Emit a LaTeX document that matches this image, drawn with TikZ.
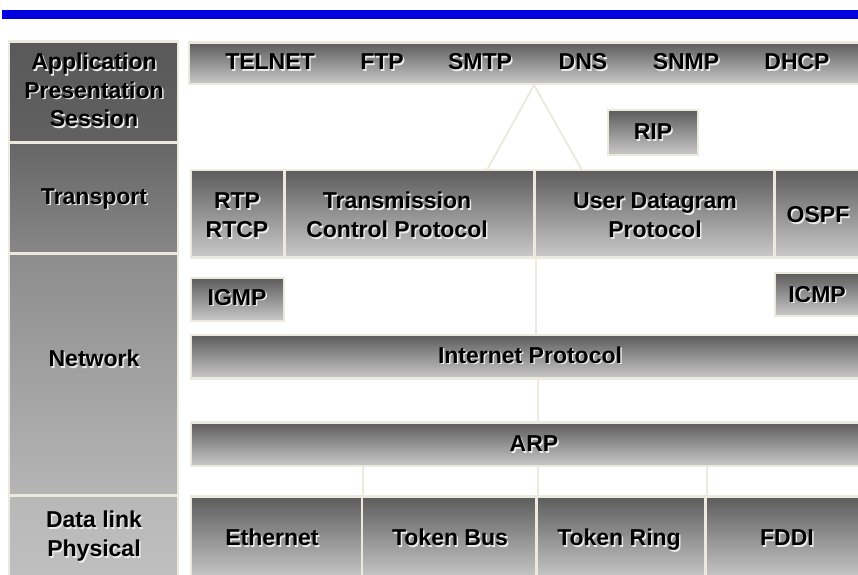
\documentclass[tikz,border=0pt]{standalone}
\usepackage{fontspec}
\setmainfont{Liberation Sans}
\usetikzlibrary{fit}
\definecolor{rim}{HTML}{ECEADF}
\definecolor{bluebar}{HTML}{0000E0}
% black lettering with a pale drop shadow
\newcommand\shd[1]{\leavevmode\rlap{\hspace{1.5pt}\raisebox{-1.5pt}{\color{white!85!gray}#1}}#1}
\tikzset{
  protobox/.style={draw=rim, line width=2.5pt, inner sep=0pt, top color=black!64, bottom color=black!21},
  layerbox/.style={protobox},
  lbl/.style={inner sep=0pt, text height=16.5pt, text depth=0pt,
    font=\bfseries\fontsize{23}{28.5}\selectfont},
  link/.style={draw=rim, line width=2pt}
}
\begin{document}
\begin{tikzpicture}[x=1pt,y=-1pt]
\useasboundingbox (0,0) rectangle (858,574);
\fill[bluebar] (2,10) rectangle (858,19);

% layer names
\node[layerbox, top color=black!65, bottom color=black!62, fit={(9,41.5) (178,142.5)}] (app) {};
\node[lbl] (appa) at (94,61.5) {\shd{Application}};
\node[lbl] (appb) at (94,90) {\shd{Presentation}};
\node[lbl] (appc) at (94,118.5) {\shd{Session}};
\node[layerbox, top color=black!60, bottom color=black!47, fit={(9,142.5) (178,253.5)}] (trans) {};
\node[lbl] (transl) at (94,196) {\shd{Transport}};
\node[layerbox, top color=black!45, bottom color=black!29, fit={(9,253.5) (178,495.5)}] (net) {};
\node[lbl] (netl) at (94,358.5) {\shd{Network}};
\node[layerbox, top color=black!28, bottom color=black!25, fit={(9,495.5) (178,580)}] (dl) {};
\node[lbl] (dla) at (94,519.5) {\shd{Data link}};
\node[lbl] (dlb) at (94,548.5) {\shd{Physical}};

% application protocols
\node[protobox, fit={(189,42.5) (862,84)}] (apps) {};
\node[lbl] (telnet) at (270,61.5) {\shd{TELNET}};
\node[lbl] (ftp) at (382,61.5) {\shd{FTP}};
\node[lbl] (smtp) at (480,61.5) {\shd{SMTP}};
\node[lbl] (dns) at (583,61.5) {\shd{DNS}};
\node[lbl] (snmp) at (686,61.5) {\shd{SNMP}};
\node[lbl] (dhcp) at (797,61.5) {\shd{DHCP}};
\node[protobox, fit={(608,110) (698,155)}] (rip) {};
\node[lbl] (ripl) at (653,131.5) {\shd{RIP}};

% transport
\node[protobox, fit={(191,170) (284.5,257.5)}] (rtp) {};
\node[lbl] (rtpa) at (237,200.5) {\shd{RTP}};
\node[lbl] (rtpb) at (237,229.5) {\shd{RTCP}};
\node[protobox, fit={(284.5,170) (534.5,257.5)}] (tcp) {};
\node[lbl] (tcpa) at (397,200.5) {\shd{Transmission}};
\node[lbl] (tcpb) at (397,229.5) {\shd{Control Protocol}};
\node[protobox, fit={(534.5,170) (774.5,257.5)}] (udp) {};
\node[lbl] (udpa) at (655,200.5) {\shd{User Datagram}};
\node[lbl] (udpb) at (655,229.5) {\shd{Protocol}};
\node[protobox, fit={(774.5,170) (862,257.5)}] (ospf) {};
\node[lbl] (ospfl) at (818,214.5) {\shd{OSPF}};

% network
\node[protobox, fit={(191,278) (284,321)}] (igmp) {};
\node[lbl] (igmpl) at (237,297) {\shd{IGMP}};
\node[protobox, fit={(775,273) (862,316)}] (icmp) {};
\node[lbl] (icmpl) at (817,294) {\shd{ICMP}};
\node[protobox, fit={(191,335) (862,378.5)}] (ip) {};
\node[lbl] (ipl) at (530,355) {\shd{Internet Protocol}};
\node[protobox, fit={(191,422.5) (862,466)}] (arp) {};
\node[lbl] (arpl) at (534,443.5) {\shd{ARP}};

% data link
\node[protobox, fit={(191,496.5) (362,580)}] (eth) {};
\node[lbl] (ethl) at (272,537.5) {\shd{Ethernet}};
\node[protobox, fit={(362,496.5) (536.5,580)}] (tbus) {};
\node[lbl] (tbusl) at (450,537.5) {\shd{Token Bus}};
\node[protobox, fit={(536.5,496.5) (705.5,580)}] (tring) {};
\node[lbl] (tringl) at (619,537.5) {\shd{Token Ring}};
\node[protobox, fit={(705.5,496.5) (862,580)}] (fddi) {};
\node[lbl] (fddil) at (787,537.5) {\shd{FDDI}};

% connectors
\coordinate (apex) at (534,85);
\coordinate (footl) at (487,170);
\coordinate (footr) at (582,170);
\draw[link] (footl) -- (apex) -- (footr);
\draw[link] (tcp.south east) -- (tcp.south east |- ip.north);
\draw[link] (ip.south -| tbus.north east) -- (arp.north -| tbus.north east);
\draw[link] (eth.north east) -- (eth.north east |- arp.south);
\draw[link] (tbus.north east) -- (tbus.north east |- arp.south);
\draw[link] (tring.north east) -- (tring.north east |- arp.south);
\end{tikzpicture}
\end{document}
